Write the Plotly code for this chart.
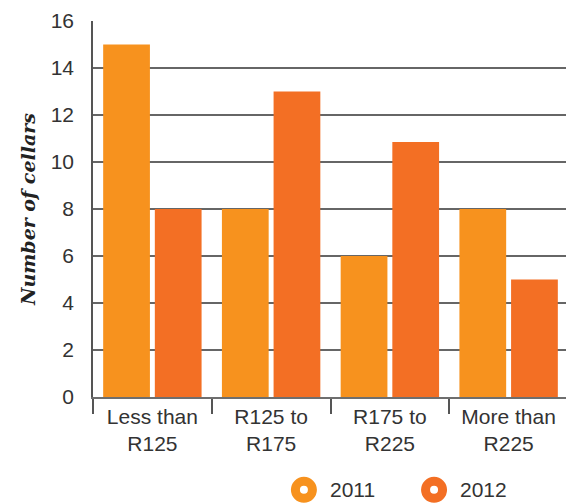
import plotly.graph_objects as go

categories = ["Less than<br>R125", "R125 to<br>R175", "R175 to<br>R225", "More than<br>R225"]
values_2011 = [15, 8, 6, 8]
values_2012 = [8, 13, 10.85, 5]
series_names = ["2011", "2012"]
colors = ["#F7921E", "#F36F24"]
y_ticks = [0, 2, 4, 6, 8, 10, 12, 14, 16]

fig = go.Figure()
for name, vals, col in zip(series_names, [values_2011, values_2012], colors):
    fig.add_trace(go.Bar(x=categories, y=vals, name=name, marker_color=col,
                         marker_line_width=0, showlegend=False))

# Manual legend: ring markers + text (paper coordinates)
legend_x = [0.444, 0.718]
legend_y = -0.247
for name, col, lx in zip(series_names, colors, legend_x):
    fig.add_shape(type="circle", xref="paper", yref="paper",
                  xsizemode="pixel", ysizemode="pixel", xanchor=lx, yanchor=legend_y,
                  x0=-8.5, x1=8.5, y0=-8.5, y1=8.5,
                  line=dict(color=col, width=9), fillcolor="white")
    fig.add_annotation(x=lx, y=legend_y, xref="paper", yref="paper", text=name,
                       showarrow=False, xanchor="left", yanchor="middle", xshift=24,
                       font=dict(size=21, color="#333333"))

font_family = "Liberation Sans, Arial, sans-serif"
fig.update_layout(
    width=566, height=496,
    margin=dict(l=85, r=6, t=13, b=107),
    paper_bgcolor="white", plot_bgcolor="white",
    barmode="group", bargap=0.13, bargroupgap=0.095,
    showlegend=False,
    font=dict(family=font_family, size=21, color="#333333"),
    xaxis=dict(type="category", showgrid=False, showline=True, linecolor="#6e6e6e",
               linewidth=1.5, ticks="outside", tickson="boundaries", ticklen=15,
               tickcolor="#555555", tickwidth=1.5, ticklabelstandoff=0,
               automargin=False, tickfont=dict(size=21, color="#333333")),
    yaxis=dict(range=[0, 16], tickvals=y_ticks, showgrid=True, gridcolor="#666666",
               gridwidth=1.5, showline=True, linecolor="#555555", linewidth=1.5,
               zeroline=False, ticks="", ticklabelstandoff=13, automargin=False,
               tickfont=dict(size=21, color="#333333"),
               title=dict(text="<b><i>Number of cellars</i></b>", standoff=10,
                          font=dict(family="DejaVu Serif, serif", size=19, color="#222222"))),
)
fig.write_html("out.html")
